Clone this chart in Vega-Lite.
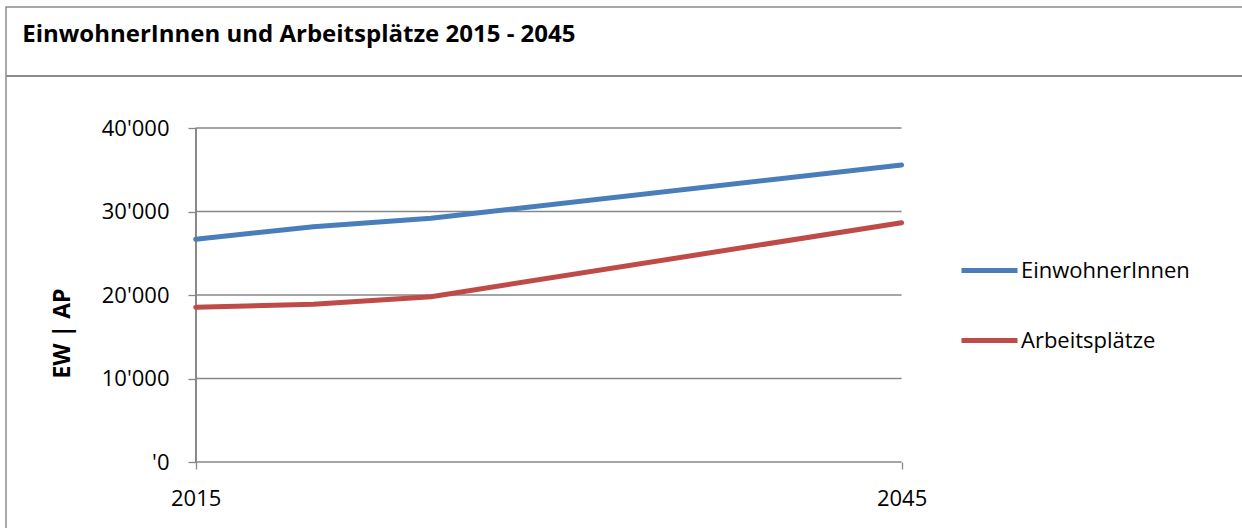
{
  "$schema": "https://vega.github.io/schema/vega-lite/v6.json",
  "width": 1242,
  "height": 528,
  "autosize": {"type": "fit", "contains": "padding"},
  "padding": {"left": 5, "top": 7, "right": -5, "bottom": -3},
  "background": "white",
  "config": {
    "view": {"stroke": "#8c8c8c", "strokeWidth": 1.5},
    "font": "Open Sans",
    "axis": {"labelFont": "Open Sans", "titleFont": "Open Sans", "labelColor": "black", "titleColor": "black"},
    "legend": {"labelFont": "Open Sans", "labelColor": "black"}
  },
  "title": {
    "text": "EinwohnerInnen und Arbeitsplätze 2015 - 2045",
    "anchor": "start",
    "orient": "top",
    "offset": -59,
    "dx": 17,
    "baseline": "alphabetic",
    "fontSize": 24,
    "fontWeight": "bold",
    "font": "Open Sans",
    "color": "black"
  },
  "data": {
    "values": [
      {"Jahr": 2015, "Serie": "EinwohnerInnen", "Wert": 26670},
      {"Jahr": 2020, "Serie": "EinwohnerInnen", "Wert": 28180},
      {"Jahr": 2025, "Serie": "EinwohnerInnen", "Wert": 29190},
      {"Jahr": 2045, "Serie": "EinwohnerInnen", "Wert": 35570},
      {"Jahr": 2015, "Serie": "Arbeitsplätze", "Wert": 18530},
      {"Jahr": 2020, "Serie": "Arbeitsplätze", "Wert": 18890},
      {"Jahr": 2025, "Serie": "Arbeitsplätze", "Wert": 19800},
      {"Jahr": 2045, "Serie": "Arbeitsplätze", "Wert": 28660}
    ]
  },
  "layer": [
    {
      "data": {"values": [{"g": 0}, {"g": 10000}, {"g": 20000}, {"g": 30000}, {"g": 40000}]},
      "mark": {"type": "rule", "color": "#878787", "strokeWidth": 1.3},
      "encoding": {
        "x": {
          "datum": 2015, "type": "quantitative",
          "scale": {"domain": [2006.938, 2059.639], "nice": false, "zero": false},
          "axis": {
            "values": [2015, 2045], "format": "d", "offset": -69, "domain": false, "grid": false,
            "tickColor": "#878787", "tickSize": 7, "tickWidth": 1.3,
            "labelFontSize": 22, "labelPadding": 19, "title": null, "labelFlush": false
          }
        },
        "x2": {"datum": 2045},
        "y": {
          "field": "g", "type": "quantitative",
          "scale": {"domain": [-8263, 54491], "nice": false, "zero": false},
          "axis": {
            "values": [0, 10000, 20000, 30000, 40000], "offset": -190, "domain": false, "grid": false,
            "tickColor": "#878787", "tickSize": 8, "tickWidth": 1.3,
            "labelFontSize": 22, "labelPadding": 19,
            "labelExpr": "datum.value == 0 ? \"'0\" : replace(format(datum.value, ','), ',', \"'\")",
            "title": "EW | AP", "titleFontSize": 23, "titleFontWeight": "bold",
            "titleX": -127, "titleY": 326, "titleBaseline": "alphabetic", "titleAngle": -90, "titleAlign": "center"
          }
        }
      }
    },
    {
      "mark": {"type": "rule", "color": "#8c8c8c", "strokeWidth": 1.5},
      "encoding": {
        "y": {"datum": 46228, "type": "quantitative"}
      }
    },
    {
      "mark": {"type": "rule", "color": "#878787", "strokeWidth": 1.3},
      "encoding": {
        "x": {"datum": 2015, "type": "quantitative"},
        "y": {"datum": 0, "type": "quantitative"},
        "y2": {"datum": 40000}
      }
    },
    {
      "mark": {"type": "line", "strokeWidth": 5, "strokeCap": "round", "strokeJoin": "round"},
      "encoding": {
        "x": {"field": "Jahr", "type": "quantitative"},
        "y": {"field": "Wert", "type": "quantitative"},
        "color": {
          "field": "Serie", "type": "nominal",
          "scale": {"domain": ["EinwohnerInnen", "Arbeitsplätze"], "range": ["#4A7EBB", "#BE4B48"]},
          "legend": {
            "orient": "none", "legendX": 953, "legendY": 233, "title": null,
            "symbolType": "stroke", "symbolSize": 3136, "symbolStrokeWidth": 5,
            "labelFontSize": 22, "labelOffset": 1, "rowPadding": 28, "labelLimit": 400
          }
        }
      }
    }
  ]
}
